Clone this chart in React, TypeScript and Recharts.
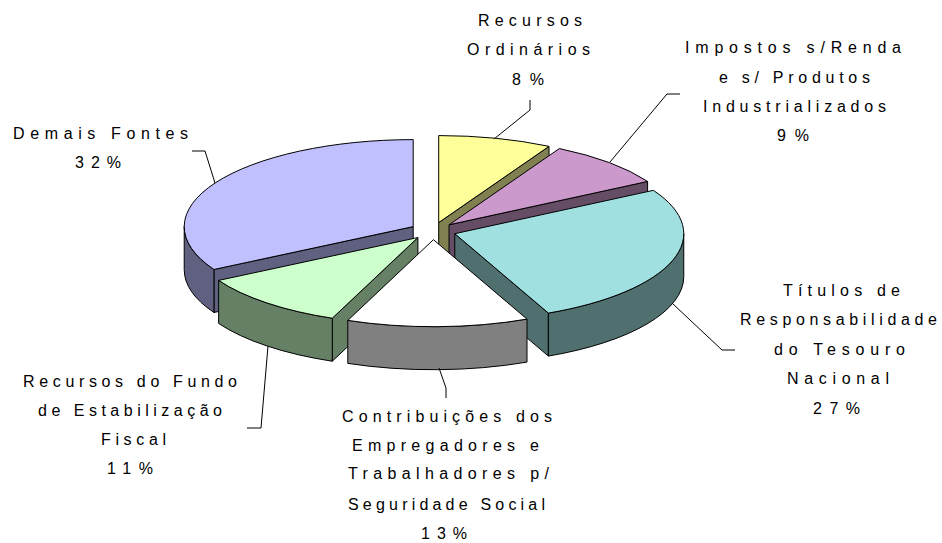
import { PieChart, Pie } from 'recharts';

// clockwise from 12 o'clock, as the slices sit in the picture
const sliceNames = [
  'Recursos Ordinários',
  'Impostos s/Renda e s/ Produtos Industrializados',
  'Títulos de Responsabilidade do Tesouro Nacional',
  'Contribuições dos Empregadores e Trabalhadores p/ Seguridade Social',
  'Recursos do Fundo de Estabilização Fiscal',
  'Demais Fontes',
];
const sliceShares = [8, 8.7, 26.6, 12.8, 10.7, 33.2];
const percentLabels = ['8%', '9%', '27%', '13%', '11%', '32%'];
const labelLines = [
  ['Recursos', 'Ordinários'],
  ['Impostos s/Renda', 'e s/ Produtos', 'Industrializados'],
  ['Títulos de', 'Responsabilidade', 'do Tesouro', 'Nacional'],
  ['Contribuições dos', 'Empregadores e', 'Trabalhadores p/', 'Seguridade Social'],
  ['Recursos do Fundo', 'de Estabilização', 'Fiscal'],
  ['Demais Fontes'],
];

const topColors = ['#FFFF99', '#CC99CC', '#A0E0E0', '#FFFFFF', '#CCFFCC', '#C0C0FF'];
const wallColors = ['#808050', '#664D66', '#507070', '#808080', '#668066', '#606080'];

// back to front
const drawOrder = [5, 0, 1, 2, 4, 3];

const chartData = sliceNames.map((name, i) => ({ name, value: sliceShares[i] }));

const RX = 229;
const RY = 87;
const DEPTH = 43;
const EXPLODE = 0.1;

// leader line and [left, baseline, width] of each text line, percent line last
const labelLayout = [
  {
    lead: '530,100 530,110 494,139',
    rows: [[478, 26, 104], [467, 55, 123], [512, 85, 32]],
  },
  {
    lead: '680,94 667,94 610,162',
    rows: [[685, 53, 216], [719, 83, 151], [703, 112, 183], [777, 141, 32]],
  },
  {
    lead: '673,304 722,350 735,350',
    rows: [[783, 296, 117], [740, 325, 197], [774, 355, 131], [787, 384, 102], [813, 414, 47]],
  },
  {
    lead: '439,368 446,388 446,398',
    rows: [[342, 422, 210], [352, 451, 187], [348, 479, 201], [348, 510, 197], [421, 539, 46]],
  },
  {
    lead: '268,346 261,428 247,428',
    rows: [[23, 387, 214], [38, 416, 184], [101, 445, 65], [107, 474, 46]],
  },
  {
    lead: '192,151 205,151 215,183',
    rows: [[13, 139, 175], [75, 168, 46]],
  },
];

const rad = (deg: number) => (deg * Math.PI) / 180;

const Slice3D = ({ cx, cy, startAngle, endAngle, index }: any) => {
  const a0 = 90 - startAngle;
  const a1 = 90 - endAngle;
  const mid = (a0 + a1) / 2;
  const ox = cx + EXPLODE * RX * Math.sin(rad(mid));
  const oy = cy - EXPLODE * RY * Math.cos(rad(mid));
  const pt = (a: number, drop = 0) =>
    `${ox + RX * Math.sin(rad(a))} ${oy - RY * Math.cos(rad(a)) + drop}`;
  const wall = wallColors[index];
  const line = { stroke: '#000', strokeWidth: 1, strokeLinejoin: 'round' as const };

  const cuts: number[] = [];
  if (a1 > 0 && a1 < 180) cuts.push(a1);
  if (a0 > 180 && a0 < 360) cuts.push(a0);

  const s = Math.max(a0, 90);
  const e = Math.min(a1, 270);
  const large = a1 - a0 > 180 ? 1 : 0;

  return (
    <g>
      {cuts.map((a) => (
        <path
          key={a}
          d={`M${ox} ${oy} L${pt(a)} L${pt(a, DEPTH)} L${ox} ${oy + DEPTH} Z`}
          fill={wall}
          {...line}
        />
      ))}
      {e > s && (
        <path
          d={`M${pt(s)} A${RX} ${RY} 0 0 1 ${pt(e)} L${pt(e, DEPTH)} A${RX} ${RY} 0 0 0 ${pt(s, DEPTH)} Z`}
          fill={wall}
          {...line}
        />
      )}
      <path
        d={`M${ox} ${oy} L${pt(a0)} A${RX} ${RY} 0 ${large} 1 ${pt(a1)} Z`}
        fill={topColors[index]}
        {...line}
      />
    </g>
  );
};

const SliceLabel = ({ index }: any) => {
  const { lead, rows } = labelLayout[index];
  const lines = [...labelLines[index], percentLabels[index]];
  return (
    <g>
      <polyline points={lead} fill="none" stroke="#000" strokeWidth={1} />
      {lines.map((t, i) => (
        <text
          key={t}
          x={rows[i][0]}
          y={rows[i][1]}
          textLength={rows[i][2]}
          lengthAdjust="spacing"
          fontFamily="'Liberation Sans', Arial, sans-serif"
          fontSize={16}
          fill="#000"
        >
          {t}
        </text>
      ))}
    </g>
  );
};

export default function App() {
  return (
    <div style={{ position: 'absolute', left: 0, top: 0 }}>
      <PieChart width={942} height={543} margin={{ top: 0, right: 0, bottom: 0, left: 0 }}>
        {drawOrder.map((which, n) => (
          <Pie
            key={which}
            data={chartData}
            dataKey="value"
            nameKey="name"
            cx={433}
            cy={231}
            outerRadius={RX}
            startAngle={90}
            endAngle={-270}
            stroke="none"
            isAnimationActive={false}
            labelLine={false}
            label={n === drawOrder.length - 1 ? (p: any) => <SliceLabel index={p.index} /> : false}
            shape={(p: any) => (p.index === which ? <Slice3D {...p} /> : <g />)}
          />
        ))}
      </PieChart>
    </div>
  );
}
